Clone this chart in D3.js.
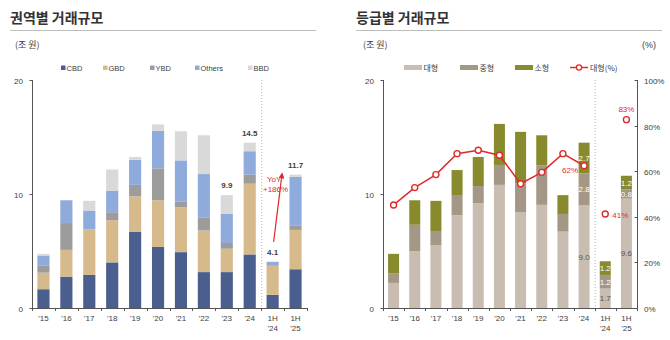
<!DOCTYPE html>
<html><head><meta charset="utf-8">
<script src="https://cdn.jsdelivr.net/npm/d3@7"></script>
<style>
body{margin:0;background:#fff;}
svg{display:block;}
text{font-family:"Liberation Sans",Arial,sans-serif;}
.kr{font-family:"Noto Sans CJK KR","Noto Sans",sans-serif;}
</style></head>
<body>
<svg id="c" width="670" height="340"></svg>
<script>
const categories = ["'15","'16","'17","'18","'19","'20","'21","'22","'23","'24","1H\n'24","1H\n'25"];
// Left chart: 권역별 거래규모 (조 원)
const regionNames = ["CBD","GBD","YBD","Others","BBD"];
const cbd    = [1.65,2.75,2.9,4.0,6.7,5.35,4.9,3.15,3.15,4.7,1.15,3.4];
const gbd    = [1.45,2.35,4.0,3.7,3.1,4.1,3.95,3.65,2.05,6.2,2.55,3.45];
const ybd    = [0.6,2.35,0,0.7,1.0,2.8,0.5,1.15,0.5,0.8,0,0.4];
const others = [0.9,2.0,1.65,1.9,2.2,3.3,3.6,3.8,2.55,2.05,0.35,4.25];
const bbd    = [0.15,0,0.85,1.85,0.25,0.55,2.55,3.4,1.65,0.75,0,0.2];
const totalLabels = {"'23":"9.9","'24":"14.5","1H\n'24":"4.1","1H\n'25":"11.7"};
// Right chart: 등급별 거래규모
const gradeNames = ["대형","중형","소형"];
const large = [2.2,5.0,5.5,8.15,9.2,10.8,8.4,9.05,6.7,9.0,1.7,9.6];
const mid   = [0.85,2.3,1.25,1.7,1.5,1.75,2.55,3.45,1.55,2.8,1.2,0.8];
const small = [1.7,2.15,2.65,2.25,2.55,3.6,4.5,2.65,1.65,2.7,1.2,1.2];
const largePct = [45.2,52.8,58.5,67.7,69.2,67.0,54.5,59.5,67.7,62.4,41.2,82.6];
const segLabelCats = ["'24","1H\n'24","1H\n'25"];
const pctLabels = {"'24":"62%","1H\n'24":"41%","1H\n'25":"83%"};
const yTicks = [0,10,20];
const pctTicks = [0,20,40,60,80,100];

const svg = d3.select("#c");
const axisColor = "#555";
const textColor = "#404040";

function header(x0, x1, title){
  svg.append("text").attr("class","kr").attr("x",x0).attr("y",23)
    .attr("font-size",14).attr("font-weight",700).attr("fill","#333").text(title);
  svg.append("line").attr("x1",x0).attr("x2",x1).attr("y1",30.5).attr("y2",30.5)
    .attr("stroke","#bdbdbd").attr("stroke-width",1);
}

function catAxis(g, x, y0){
  const [r0,r1] = x.range();
  g.append("line").attr("x1",r0).attr("x2",r1).attr("y1",y0+0.5).attr("y2",y0+0.5).attr("stroke",axisColor);
  const step = x.step();
  categories.forEach((c,i)=>{
    const xe = x(c)+step;
    g.append("line").attr("x1",Math.round(xe)+0.5).attr("x2",Math.round(xe)+0.5).attr("y1",y0).attr("y2",y0+3).attr("stroke",axisColor);
    const lines = c.split("\n");
    lines.forEach((l,j)=>{
      g.append("text").attr("x",x(c)+step/2).attr("y",y0+13+j*9.5).attr("text-anchor","middle")
        .attr("font-size",8).attr("fill",textColor).text(l);
    });
  });
  g.append("line").attr("x1",Math.round(r0)+0.5).attr("x2",Math.round(r0)+0.5).attr("y1",y0).attr("y2",y0+3).attr("stroke",axisColor);
}

function valAxis(g, y, xpos, ticks, fmt, side){
  g.append("line").attr("x1",xpos+0.5).attr("x2",xpos+0.5).attr("y1",y.range()[1]).attr("y2",y.range()[0]).attr("stroke",axisColor);
  ticks.forEach(t=>{
    const yy = Math.round(y(t))+0.5;
    g.append("line").attr("x1",xpos+0.5).attr("x2",xpos+0.5+(side==="left"?-3:-3)).attr("y1",yy).attr("y2",yy).attr("stroke",axisColor);
    g.append("text").attr("x", side==="left" ? xpos-9 : xpos+7).attr("y",yy+3)
      .attr("text-anchor", side==="left"?"end":"start").attr("font-size",8).attr("fill",textColor).text(fmt(t));
  });
}

// ---------- LEFT ----------
header(10,316,"권역별 거래규모");
svg.append("text").attr("class","kr").attr("x",15).attr("y",48).attr("font-size",9).attr("fill",textColor).text("(조 원)");

const xL = d3.scaleBand().domain(categories).range([32,307]).padding(0);
const yL = d3.scaleLinear().domain([0,20]).range([308,80]);
const regionData = categories.map((c,i)=>({cat:c, CBD:cbd[i], GBD:gbd[i], YBD:ybd[i], Others:others[i], BBD:bbd[i]}));
const regionColors = {CBD:"#4a5f8d",GBD:"#d7ba8b",YBD:"#9c9c9c",Others:"#8fabdc",BBD:"#d9d9d9"};
const stackL = d3.stack().keys(regionNames)(regionData);
const gL = svg.append("g");
const bwL = xL.bandwidth()*0.53;
stackL.forEach(layer=>{
  gL.selectAll(null).data(layer).join("rect")
    .attr("x",d=>xL(d.data.cat)+(xL.bandwidth()-bwL)/2)
    .attr("width",bwL)
    .attr("y",d=>yL(d[1]))
    .attr("height",d=>Math.max(0,yL(d[0])-yL(d[1])))
    .attr("fill",regionColors[layer.key]);
});
// divider
svg.append("line").attr("x1",xL("1H\n'24")+0.5).attr("x2",xL("1H\n'24")+0.5).attr("y1",yL(20)).attr("y2",yL(0))
  .attr("stroke","#b5b5b5").attr("stroke-dasharray","1,2");
valAxis(gL,yL,32,yTicks,d=>d,"left");
catAxis(gL,xL,308);
// total labels
Object.keys(totalLabels).forEach(c=>{
  const i = categories.indexOf(c);
  const tot = cbd[i]+gbd[i]+ybd[i]+others[i]+bbd[i];
  gL.append("text").attr("x",xL(c)+xL.bandwidth()/2).attr("y",yL(tot)-7).attr("text-anchor","middle")
    .attr("font-size",8).attr("font-weight",700).attr("fill","#404040").text(totalLabels[c]);
});
// YoY arrow
(function(){
  const i0 = categories.indexOf("1H\n'24"), i1 = categories.indexOf("1H\n'25");
  const t0 = cbd[i0]+gbd[i0]+ybd[i0]+others[i0]+bbd[i0];
  const t1 = cbd[i1]+gbd[i1]+ybd[i1]+others[i1]+bbd[i1];
  const xa = xL(categories[i0])+xL.bandwidth()*0.5+1, ya = yL(t0)-20;
  const xb = xL(categories[i1])-2, yb = yL(t1)-1;
  const red = "#e3262b";
  const defs = svg.append("defs");
  defs.append("marker").attr("id","ah").attr("viewBox","0 0 10 10").attr("refX",8).attr("refY",5)
    .attr("markerWidth",5).attr("markerHeight",5).attr("orient","auto")
    .append("path").attr("d","M0,0L10,5L0,10z").attr("fill",red);
  gL.append("line").attr("x1",xa).attr("y1",ya).attr("x2",xb).attr("y2",yb)
    .attr("stroke",red).attr("stroke-width",1.2).attr("marker-end","url(#ah)");
  gL.append("text").attr("x",267).attr("y",182).attr("font-size",8).attr("fill",red).text("YoY");
  gL.append("text").attr("x",263).attr("y",192).attr("font-size",8).attr("fill",red).text("+186%");
})();
// legend
const legL = [["CBD",61],["GBD",103],["YBD",150],["Others",195],["BBD",248]];
legL.forEach(([k,x])=>{
  svg.append("rect").attr("x",x).attr("y",65.5).attr("width",4.5).attr("height",4.5).attr("fill",regionColors[k]);
  svg.append("text").attr("x",x+5.5).attr("y",71).attr("font-size",7.5).attr("fill",textColor).text(k);
});

// ---------- RIGHT ----------
header(356,662,"등급별 거래규모");
svg.append("text").attr("class","kr").attr("x",363).attr("y",48).attr("font-size",9).attr("fill",textColor).text("(조 원)");
svg.append("text").attr("x",642).attr("y",48).attr("font-size",9).attr("fill",textColor).text("(%)");

const xR = d3.scaleBand().domain(categories).range([383,637]).padding(0);
const yR = d3.scaleLinear().domain([0,20]).range([308,80]);
const yP = d3.scaleLinear().domain([0,100]).range([308,80]);
const gradeData = categories.map((c,i)=>({cat:c, "대형":large[i], "중형":mid[i], "소형":small[i]}));
const gradeColors = {"대형":"#c9bdb1","중형":"#a59785","소형":"#878b2d"};
const labelColors = {"대형":"#555","중형":"#fff","소형":"#fff"};
const stackR = d3.stack().keys(gradeNames)(gradeData);
const gR = svg.append("g");
const bwR = xR.bandwidth()*0.52;
stackR.forEach(layer=>{
  gR.selectAll(null).data(layer).join("rect")
    .attr("x",d=>xR(d.data.cat)+(xR.bandwidth()-bwR)/2)
    .attr("width",bwR)
    .attr("y",d=>yR(d[1]))
    .attr("height",d=>Math.max(0,yR(d[0])-yR(d[1])))
    .attr("fill",gradeColors[layer.key]);
  gR.selectAll(null).data(layer.filter(d=>segLabelCats.includes(d.data.cat))).join("text")
    .attr("x",d=>xR(d.data.cat)+xR.bandwidth()/2)
    .attr("y",d=>(yR(d[0])+yR(d[1]))/2+3)
    .attr("text-anchor","middle").attr("font-size",8).attr("fill",labelColors[layer.key])
    .text(d=>d3.format(".1f")(d.data[layer.key]));
});
svg.append("line").attr("x1",xR("1H\n'24")+0.5).attr("x2",xR("1H\n'24")+0.5).attr("y1",yR(20)).attr("y2",yR(0))
  .attr("stroke","#b5b5b5").attr("stroke-dasharray","1,2");
valAxis(gR,yR,383,yTicks,d=>d,"left");
valAxis(gR,yP,637,pctTicks,d=>d+"%","right");
catAxis(gR,xR,308);
// line
const red2 = "#e02a2a";
const lineData = categories.map((c,i)=>({cat:c, v:largePct[i]}));
const line = d3.line().x(d=>xR(d.cat)+xR.bandwidth()/2).y(d=>yP(d.v));
gR.append("path").datum(lineData.slice(0,10)).attr("d",line).attr("fill","none").attr("stroke",red2).attr("stroke-width",1.5);
gR.selectAll(null).data(lineData).join("circle")
  .attr("cx",d=>xR(d.cat)+xR.bandwidth()/2).attr("cy",d=>yP(d.v)).attr("r",3)
  .attr("fill","#fff").attr("stroke",red2).attr("stroke-width",1.4);
// pct labels
const pctPos = {"'24":[-6,7,"end"],"1H\n'24":[7,4,"start"],"1H\n'25":[0,-8,"middle"]};
Object.keys(pctLabels).forEach(c=>{
  const i = categories.indexOf(c);
  const [dx,dy,anc] = pctPos[c];
  gR.append("text").attr("x",xR(c)+xR.bandwidth()/2+dx).attr("y",yP(largePct[i])+dy)
    .attr("text-anchor",anc).attr("font-size",8).attr("fill",red2).text(pctLabels[c]);
});
// legend
const legR = [["대형",404],["중형",460],["소형",515]];
legR.forEach(([k,x])=>{
  svg.append("rect").attr("x",x).attr("y",65).attr("width",18).attr("height",5).attr("fill",gradeColors[k]);
  svg.append("text").attr("class","kr").attr("x",x+19.5).attr("y",71).attr("font-size",8).attr("fill",textColor).text(k);
});
svg.append("line").attr("x1",570).attr("x2",588).attr("y1",67.5).attr("y2",67.5).attr("stroke",red2).attr("stroke-width",1.5);
svg.append("circle").attr("cx",579).attr("cy",67.5).attr("r",2.6).attr("fill","#fff").attr("stroke",red2).attr("stroke-width",1.3);
svg.append("text").attr("class","kr").attr("x",590).attr("y",71).attr("font-size",8).attr("fill",textColor).text("대형(%)");
</script>
</body></html>
